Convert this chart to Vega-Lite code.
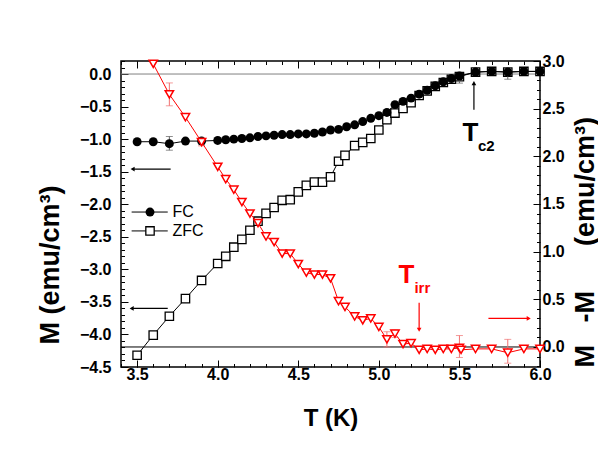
{
  "$schema": "https://vega.github.io/schema/vega-lite/v6.json",
  "width": 419,
  "height": 306,
  "autosize": {"type": "none"},
  "padding": {"left": 121, "top": 61, "right": 58, "bottom": 95},
  "background": "white",
  "config": {
    "view": {"stroke": "black", "strokeWidth": 1.5},
    "font": "Liberation Sans",
    "axis": {
      "grid": false,
      "domain": false,
      "labelFont": "Liberation Sans",
      "labelFontWeight": "bold",
      "labelFontSize": 16,
      "labelColor": "black",
      "labelFlush": false,
      "labelOverlap": false,
      "labelBound": false,
      "tickColor": "black",
      "tickWidth": 1,
      "titleFont": "Liberation Sans",
      "titleFontWeight": "bold",
      "titleFontSize": 23,
      "titleColor": "black"
    }
  },
  "datasets": {
    "fc": [
      {"T": 3.5, "M": -1.04}, {"T": 3.6, "M": -1.04}, {"T": 3.7, "M": -1.07}, {"T": 3.8, "M": -1.03},
      {"T": 3.9, "M": -1.03}, {"T": 4.0, "M": -1.02}, {"T": 4.05, "M": -1.01}, {"T": 4.1, "M": -1.0},
      {"T": 4.15, "M": -0.99}, {"T": 4.2, "M": -0.98}, {"T": 4.25, "M": -0.96}, {"T": 4.3, "M": -0.95},
      {"T": 4.35, "M": -0.94}, {"T": 4.4, "M": -0.93}, {"T": 4.45, "M": -0.93}, {"T": 4.5, "M": -0.92},
      {"T": 4.55, "M": -0.92}, {"T": 4.6, "M": -0.91}, {"T": 4.65, "M": -0.89}, {"T": 4.7, "M": -0.86},
      {"T": 4.75, "M": -0.85}, {"T": 4.8, "M": -0.81}, {"T": 4.85, "M": -0.78}, {"T": 4.9, "M": -0.73},
      {"T": 4.95, "M": -0.68}, {"T": 5.0, "M": -0.64}, {"T": 5.05, "M": -0.59}, {"T": 5.1, "M": -0.47},
      {"T": 5.15, "M": -0.42}, {"T": 5.2, "M": -0.37}, {"T": 5.25, "M": -0.31}, {"T": 5.3, "M": -0.25},
      {"T": 5.35, "M": -0.18}, {"T": 5.4, "M": -0.12}, {"T": 5.45, "M": -0.07}, {"T": 5.5, "M": -0.03},
      {"T": 5.6, "M": 0.03}, {"T": 5.7, "M": 0.04}, {"T": 5.8, "M": 0.03}, {"T": 5.9, "M": 0.04},
      {"T": 6.0, "M": 0.04}
    ],
    "zfc": [
      {"T": 3.5, "M": -4.32}, {"T": 3.6, "M": -4.01}, {"T": 3.7, "M": -3.72}, {"T": 3.8, "M": -3.45},
      {"T": 3.9, "M": -3.17}, {"T": 4.0, "M": -2.91}, {"T": 4.05, "M": -2.8}, {"T": 4.1, "M": -2.66},
      {"T": 4.15, "M": -2.54}, {"T": 4.2, "M": -2.4}, {"T": 4.25, "M": -2.26}, {"T": 4.3, "M": -2.14},
      {"T": 4.35, "M": -2.05}, {"T": 4.4, "M": -1.94}, {"T": 4.45, "M": -1.93}, {"T": 4.5, "M": -1.81},
      {"T": 4.55, "M": -1.71}, {"T": 4.6, "M": -1.66}, {"T": 4.65, "M": -1.66}, {"T": 4.7, "M": -1.58},
      {"T": 4.75, "M": -1.34}, {"T": 4.79, "M": -1.25}, {"T": 4.85, "M": -1.1}, {"T": 4.9, "M": -1.05},
      {"T": 4.95, "M": -0.99}, {"T": 5.0, "M": -0.86}, {"T": 5.05, "M": -0.7}, {"T": 5.1, "M": -0.6},
      {"T": 5.15, "M": -0.53}, {"T": 5.2, "M": -0.44}, {"T": 5.25, "M": -0.33}, {"T": 5.3, "M": -0.26},
      {"T": 5.35, "M": -0.19}, {"T": 5.4, "M": -0.13}, {"T": 5.45, "M": -0.08}, {"T": 5.5, "M": -0.04},
      {"T": 5.6, "M": 0.03}, {"T": 5.7, "M": 0.04}, {"T": 5.8, "M": 0.03}, {"T": 5.9, "M": 0.04},
      {"T": 6.0, "M": 0.04}
    ],
    "diff": [
      {"T": 3.6, "v": 2.97}, {"T": 3.7, "v": 2.65}, {"T": 3.8, "v": 2.41}, {"T": 3.9, "v": 2.15},
      {"T": 4.0, "v": 1.89}, {"T": 4.05, "v": 1.76}, {"T": 4.1, "v": 1.65}, {"T": 4.15, "v": 1.52},
      {"T": 4.2, "v": 1.4}, {"T": 4.25, "v": 1.3}, {"T": 4.3, "v": 1.16}, {"T": 4.35, "v": 1.1},
      {"T": 4.4, "v": 0.98}, {"T": 4.45, "v": 0.98}, {"T": 4.5, "v": 0.87}, {"T": 4.55, "v": 0.78},
      {"T": 4.6, "v": 0.76}, {"T": 4.65, "v": 0.76}, {"T": 4.7, "v": 0.72}, {"T": 4.75, "v": 0.48},
      {"T": 4.79, "v": 0.42}, {"T": 4.85, "v": 0.32}, {"T": 4.9, "v": 0.28}, {"T": 4.95, "v": 0.3},
      {"T": 5.0, "v": 0.21}, {"T": 5.05, "v": 0.08}, {"T": 5.1, "v": 0.14}, {"T": 5.15, "v": 0.03},
      {"T": 5.2, "v": 0.04}, {"T": 5.25, "v": -0.03}, {"T": 5.3, "v": -0.02}, {"T": 5.35, "v": -0.03},
      {"T": 5.4, "v": -0.02}, {"T": 5.45, "v": -0.02}, {"T": 5.5, "v": -0.01}, {"T": 5.51, "v": -0.03},
      {"T": 5.6, "v": -0.02}, {"T": 5.7, "v": -0.02}, {"T": 5.8, "v": -0.06}, {"T": 5.9, "v": -0.02},
      {"T": 6.0, "v": -0.02}
    ],
    "fcerr": [
      {"T": 3.7, "lo": -1.17, "hi": -0.96}, {"T": 5.5, "lo": -0.14, "hi": 0.01}, {"T": 5.8, "lo": -0.08, "hi": 0.09}
    ],
    "differr": [
      {"T": 3.7, "lo": 2.53, "hi": 2.77}, {"T": 3.9, "lo": 2.11, "hi": 2.19}, {"T": 5.05, "lo": 0.0, "hi": 0.16},
      {"T": 5.1, "lo": 0.1, "hi": 0.18}, {"T": 5.5, "lo": -0.11, "hi": 0.12}, {"T": 5.8, "lo": -0.17, "hi": 0.08}
    ],
    "arrowsL": [
      {"x1": 3.708, "x2": 3.472, "y1": -1.46, "y2": -1.46, "head": "left"},
      {"x1": 3.69, "x2": 3.466, "y1": -3.6, "y2": -3.6, "head": "left"},
      {"x1": 5.59, "x2": 5.59, "y1": -0.55, "y2": -0.14, "head": "up"}
    ],
    "arrowsR": [
      {"x1": 5.25, "x2": 5.25, "y1": 0.465, "y2": 0.18, "head": "down"},
      {"x1": 5.68, "x2": 5.93, "y1": 0.3, "y2": 0.3, "head": "right"}
    ]
  },
  "resolve": {
    "scale": {"y": "independent"},
    "axis": {"x": "independent", "y": "independent"}
  },
  "layer": [
    {
      "data": {"values": [{"M": 0}]},
      "mark": {"type": "rule", "color": "#808080", "strokeWidth": 1},
      "encoding": {
        "y": {"field": "M", "type": "quantitative", "scale": {"domain": [-4.5, 0.2], "nice": false, "zero": false},
          "axis": {"orient": "left", "values": [-4.5, -4, -3.5, -3, -2.5, -2, -1.5, -1, -0.5, 0], "format": ".1f",
            "tickSize": -7, "labelPadding": 17, "title": "M (emu/cm³)", "titleFontSize": 27, "titleAngle": 270, "titleAlign": "left",
            "titleBaseline": "alphabetic", "titleX": -63, "titleY": 283}}
      }
    },
    {
      "data": {"values": [{"v": 0}]},
      "mark": {"type": "rule", "color": "black", "strokeWidth": 1},
      "encoding": {
        "y": {"field": "v", "type": "quantitative", "scale": {"domain": [-0.21, 3.0], "nice": false, "zero": false},
          "axis": {"orient": "right", "values": [0, 0.5, 1, 1.5, 2, 2.5, 3], "format": ".1f",
            "tickSize": -7, "labelPadding": 9, "title": "M\u00a0\u00a0\u00a0-M\u00a0\u00a0\u00a0\u00a0\u00a0\u00a0(emu/cm³)", "titleFontSize": 27, "titleAngle": 270, "titleAlign": "left",
            "titleBaseline": "alphabetic", "titleX": 53, "titleY": 306}}
      }
    },
    {
      "data": {"name": "zfc"},
      "mark": {"type": "line", "color": "black", "strokeWidth": 1},
      "encoding": {
        "x": {"field": "T", "type": "quantitative", "scale": {"domain": [3.4, 6.0], "nice": false, "zero": false},
          "axis": {"orient": "bottom", "values": [3.5, 4, 4.5, 5, 5.5, 6], "format": ".1f", "tickSize": -7,
            "labelPadding": 6, "title": "T (K)", "titleFontSize": 24, "titleBaseline": "alphabetic", "titleY": 58}},
        "y": {"field": "M", "type": "quantitative", "scale": {"domain": [-4.5, 0.2], "nice": false, "zero": false},
          "axis": {"orient": "left", "labels": false, "title": null, "tickSize": -3.5,
            "values": [-4.5, -4.4, -4.3, -4.2, -4.1, -4.0, -3.9, -3.8, -3.7, -3.6, -3.5, -3.4, -3.3, -3.2, -3.1, -3.0, -2.9, -2.8, -2.7, -2.6, -2.5, -2.4, -2.3, -2.2, -2.1, -2.0, -1.9, -1.8, -1.7, -1.6, -1.5, -1.4, -1.3, -1.2, -1.1, -1.0, -0.9, -0.8, -0.7, -0.6, -0.5, -0.4, -0.3, -0.2, -0.1, 0.0, 0.1, 0.2]}}
      }
    },
    {
      "data": {"name": "zfc"},
      "mark": {"type": "point", "shape": "square", "filled": true, "fill": "white", "stroke": "black", "strokeWidth": 1.3, "size": 70, "opacity": 1},
      "encoding": {
        "x": {"field": "T", "type": "quantitative", "scale": {"domain": [3.4, 6.0], "nice": false, "zero": false},
          "axis": {"orient": "bottom", "labels": false, "title": null, "tickSize": -3.5,
            "values": [3.4, 3.5, 3.6, 3.7, 3.8, 3.9, 4.0, 4.1, 4.2, 4.3, 4.4, 4.5, 4.6, 4.7, 4.8, 4.9, 5.0, 5.1, 5.2, 5.3, 5.4, 5.5, 5.6, 5.7, 5.8, 5.9, 6.0]}},
        "y": {"field": "M", "type": "quantitative", "scale": {"domain": [-4.5, 0.2], "nice": false, "zero": false}, "axis": null}
      }
    },
    {
      "data": {"name": "fcerr"},
      "mark": {"type": "errorbar", "ticks": {"size": 7, "color": "#606060"}, "color": "#606060"},
      "encoding": {
        "x": {"field": "T", "type": "quantitative", "scale": {"domain": [3.4, 6.0], "nice": false, "zero": false}, "axis": null},
        "y": {"field": "lo", "type": "quantitative", "scale": {"domain": [-4.5, 0.2], "nice": false, "zero": false}, "axis": null},
        "y2": {"field": "hi"}
      }
    },
    {
      "data": {"name": "fc"},
      "mark": {"type": "line", "color": "black", "strokeWidth": 1},
      "encoding": {
        "x": {"field": "T", "type": "quantitative", "scale": {"domain": [3.4, 6.0], "nice": false, "zero": false},
          "axis": {"orient": "top", "values": [3.5, 4, 4.5, 5, 5.5, 6], "labels": false, "title": null, "tickSize": -7}},
        "y": {"field": "M", "type": "quantitative", "scale": {"domain": [-4.5, 0.2], "nice": false, "zero": false}, "axis": null}
      }
    },
    {
      "data": {"name": "fc"},
      "mark": {"type": "point", "shape": "circle", "filled": true, "color": "black", "size": 80, "opacity": 1},
      "encoding": {
        "x": {"field": "T", "type": "quantitative", "scale": {"domain": [3.4, 6.0], "nice": false, "zero": false},
          "axis": {"orient": "top", "labels": false, "title": null, "tickSize": -3.5,
            "values": [3.4, 3.5, 3.6, 3.7, 3.8, 3.9, 4.0, 4.1, 4.2, 4.3, 4.4, 4.5, 4.6, 4.7, 4.8, 4.9, 5.0, 5.1, 5.2, 5.3, 5.4, 5.5, 5.6, 5.7, 5.8, 5.9, 6.0]}},
        "y": {"field": "M", "type": "quantitative", "scale": {"domain": [-4.5, 0.2], "nice": false, "zero": false}, "axis": null}
      }
    },
    {
      "data": {"name": "differr"},
      "mark": {"type": "errorbar", "ticks": {"size": 7, "color": "#f07070"}, "color": "#f07070"},
      "encoding": {
        "x": {"field": "T", "type": "quantitative", "scale": {"domain": [3.4, 6.0], "nice": false, "zero": false}, "axis": null},
        "y": {"field": "lo", "type": "quantitative", "scale": {"domain": [-0.21, 3.0], "nice": false, "zero": false}, "axis": null},
        "y2": {"field": "hi"}
      }
    },
    {
      "data": {"name": "diff"},
      "mark": {"type": "line", "color": "#ff0000", "strokeWidth": 1},
      "encoding": {
        "x": {"field": "T", "type": "quantitative", "scale": {"domain": [3.4, 6.0], "nice": false, "zero": false}, "axis": null},
        "y": {"field": "v", "type": "quantitative", "scale": {"domain": [-0.21, 3.0], "nice": false, "zero": false},
          "axis": {"orient": "right", "labels": false, "title": null, "tickSize": -3.5,
            "values": [-0.2, -0.1, 0.0, 0.1, 0.2, 0.3, 0.4, 0.5, 0.6, 0.7, 0.8, 0.9, 1.0, 1.1, 1.2, 1.3, 1.4, 1.5, 1.6, 1.7, 1.8, 1.9, 2.0, 2.1, 2.2, 2.3, 2.4, 2.5, 2.6, 2.7, 2.8, 2.9, 3.0]}}
      }
    },
    {
      "data": {"name": "diff"},
      "mark": {"type": "point", "shape": "triangle-down", "filled": true, "fill": "white", "stroke": "#ff0000", "strokeWidth": 1.5, "size": 70, "opacity": 1},
      "encoding": {
        "x": {"field": "T", "type": "quantitative", "scale": {"domain": [3.4, 6.0], "nice": false, "zero": false}, "axis": null},
        "y": {"field": "v", "type": "quantitative", "scale": {"domain": [-0.21, 3.0], "nice": false, "zero": false}, "axis": null}
      }
    },
    {
      "data": {"name": "arrowsL"},
      "mark": {"type": "rule", "color": "black", "strokeWidth": 1.2},
      "encoding": {
        "x": {"field": "x1", "type": "quantitative", "scale": {"domain": [3.4, 6.0], "nice": false, "zero": false}, "axis": null},
        "x2": {"field": "x2"},
        "y": {"field": "y1", "type": "quantitative", "scale": {"domain": [-4.5, 0.2], "nice": false, "zero": false}, "axis": null},
        "y2": {"field": "y2"}
      }
    },
    {
      "data": {"name": "arrowsL"},
      "mark": {"type": "point", "filled": true, "color": "black", "size": 22, "opacity": 1},
      "encoding": {
        "x": {"field": "x2", "type": "quantitative", "scale": {"domain": [3.4, 6.0], "nice": false, "zero": false}, "axis": null},
        "y": {"field": "y2", "type": "quantitative", "scale": {"domain": [-4.5, 0.2], "nice": false, "zero": false}, "axis": null},
        "shape": {"field": "head", "type": "nominal", "scale": {"domain": ["left", "up", "right", "down"], "range": ["triangle-left", "triangle-up", "triangle-right", "triangle-down"]}, "legend": null}
      }
    },
    {
      "data": {"name": "arrowsR"},
      "mark": {"type": "rule", "color": "#ff0000", "strokeWidth": 1.2},
      "encoding": {
        "x": {"field": "x1", "type": "quantitative", "scale": {"domain": [3.4, 6.0], "nice": false, "zero": false}, "axis": null},
        "x2": {"field": "x2"},
        "y": {"field": "y1", "type": "quantitative", "scale": {"domain": [-0.21, 3.0], "nice": false, "zero": false}, "axis": null},
        "y2": {"field": "y2"}
      }
    },
    {
      "data": {"name": "arrowsR"},
      "mark": {"type": "point", "filled": true, "color": "#ff0000", "size": 22, "opacity": 1},
      "encoding": {
        "x": {"field": "x2", "type": "quantitative", "scale": {"domain": [3.4, 6.0], "nice": false, "zero": false}, "axis": null},
        "y": {"field": "y2", "type": "quantitative", "scale": {"domain": [-0.21, 3.0], "nice": false, "zero": false}, "axis": null},
        "shape": {"field": "head", "type": "nominal", "scale": {"domain": ["left", "up", "right", "down"], "range": ["triangle-left", "triangle-up", "triangle-right", "triangle-down"]}, "legend": null}
      }
    },
    {
      "data": {"values": [{"T": 5.568, "M": -0.9, "text": "T"}]},
      "mark": {"type": "text", "font": "Liberation Sans", "fontWeight": "bold", "fontSize": 26, "color": "black", "align": "center", "baseline": "middle"},
      "encoding": {
        "x": {"field": "T", "type": "quantitative", "scale": {"domain": [3.4, 6.0], "nice": false, "zero": false}, "axis": null},
        "y": {"field": "M", "type": "quantitative", "scale": {"domain": [-4.5, 0.2], "nice": false, "zero": false}, "axis": null},
        "text": {"field": "text"}
      }
    },
    {
      "data": {"values": [{"T": 5.667, "M": -1.11, "text": "c2"}]},
      "mark": {"type": "text", "font": "Liberation Sans", "fontWeight": "bold", "fontSize": 15, "color": "black", "align": "center", "baseline": "middle"},
      "encoding": {
        "x": {"field": "T", "type": "quantitative", "scale": {"domain": [3.4, 6.0], "nice": false, "zero": false}, "axis": null},
        "y": {"field": "M", "type": "quantitative", "scale": {"domain": [-4.5, 0.2], "nice": false, "zero": false}, "axis": null},
        "text": {"field": "text"}
      }
    },
    {
      "data": {"values": [{"T": 5.171, "v": 0.755, "text": "T"}]},
      "mark": {"type": "text", "font": "Liberation Sans", "fontWeight": "bold", "fontSize": 26, "color": "#ff0000", "align": "center", "baseline": "middle"},
      "encoding": {
        "x": {"field": "T", "type": "quantitative", "scale": {"domain": [3.4, 6.0], "nice": false, "zero": false}, "axis": null},
        "y": {"field": "v", "type": "quantitative", "scale": {"domain": [-0.21, 3.0], "nice": false, "zero": false}, "axis": null},
        "text": {"field": "text"}
      }
    },
    {
      "data": {"values": [{"T": 5.27, "v": 0.62, "text": "irr"}]},
      "mark": {"type": "text", "font": "Liberation Sans", "fontWeight": "bold", "fontSize": 15, "color": "#ff0000", "align": "center", "baseline": "middle"},
      "encoding": {
        "x": {"field": "T", "type": "quantitative", "scale": {"domain": [3.4, 6.0], "nice": false, "zero": false}, "axis": null},
        "y": {"field": "v", "type": "quantitative", "scale": {"domain": [-0.21, 3.0], "nice": false, "zero": false}, "axis": null},
        "text": {"field": "text"}
      }
    },
    {
      "data": {"values": [{"x1": 3.466, "x2": 3.69, "M": -2.12}, {"x1": 3.466, "x2": 3.69, "M": -2.41}]},
      "mark": {"type": "rule", "color": "black", "strokeWidth": 1},
      "encoding": {
        "x": {"field": "x1", "type": "quantitative", "scale": {"domain": [3.4, 6.0], "nice": false, "zero": false}, "axis": null},
        "x2": {"field": "x2"},
        "y": {"field": "M", "type": "quantitative", "scale": {"domain": [-4.5, 0.2], "nice": false, "zero": false}, "axis": null}
      }
    },
    {
      "data": {"values": [{"T": 3.58, "M": -2.12}]},
      "mark": {"type": "point", "shape": "circle", "filled": true, "color": "black", "size": 80, "opacity": 1},
      "encoding": {
        "x": {"field": "T", "type": "quantitative", "scale": {"domain": [3.4, 6.0], "nice": false, "zero": false}, "axis": null},
        "y": {"field": "M", "type": "quantitative", "scale": {"domain": [-4.5, 0.2], "nice": false, "zero": false}, "axis": null}
      }
    },
    {
      "data": {"values": [{"T": 3.58, "M": -2.41}]},
      "mark": {"type": "point", "shape": "square", "filled": true, "fill": "white", "stroke": "black", "strokeWidth": 1.3, "size": 70, "opacity": 1},
      "encoding": {
        "x": {"field": "T", "type": "quantitative", "scale": {"domain": [3.4, 6.0], "nice": false, "zero": false}, "axis": null},
        "y": {"field": "M", "type": "quantitative", "scale": {"domain": [-4.5, 0.2], "nice": false, "zero": false}, "axis": null}
      }
    },
    {
      "data": {"values": [{"T": 3.72, "M": -2.12, "text": "FC"}, {"T": 3.72, "M": -2.41, "text": "ZFC"}]},
      "mark": {"type": "text", "font": "Liberation Sans", "fontSize": 16, "color": "black", "align": "left", "baseline": "middle"},
      "encoding": {
        "x": {"field": "T", "type": "quantitative", "scale": {"domain": [3.4, 6.0], "nice": false, "zero": false}, "axis": null},
        "y": {"field": "M", "type": "quantitative", "scale": {"domain": [-4.5, 0.2], "nice": false, "zero": false}, "axis": null},
        "text": {"field": "text"}
      }
    }
  ]
}
